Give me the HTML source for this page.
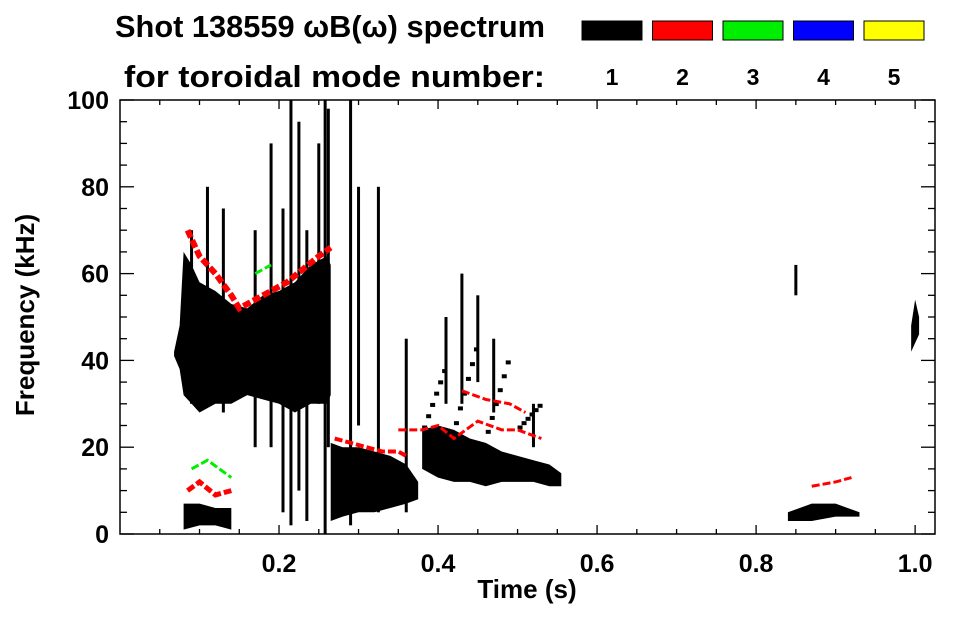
<!DOCTYPE html>
<html><head><meta charset="utf-8"><style>
body{margin:0;background:#fff;width:963px;height:615px;overflow:hidden}
svg text{font-family:"Liberation Sans",sans-serif;font-weight:bold;fill:#000}
</style></head><body>
<svg id="chart" width="963" height="615" viewBox="0 0 963 615" xmlns="http://www.w3.org/2000/svg">
<text x="115" y="37" font-size="30.5" textLength="430" lengthAdjust="spacingAndGlyphs">Shot 138559 ωB(ω) spectrum</text>
<text x="124" y="87" font-size="31" textLength="421" lengthAdjust="spacingAndGlyphs">for toroidal mode number:</text>
<g id="legend"></g>
<g id="plot"></g>
<g id="axes"></g>
<text x="527" y="598" font-size="26" text-anchor="middle">Time (s)</text>
<text transform="translate(34,315) rotate(-90)" font-size="26" text-anchor="middle">Frequency (kHz)</text>
</svg>
<script>
const modeNumbers=[1,2,3,4,5];
const modeColors=["#000000","#ff0000","#00ee00","#0000ff","#ffff00"];
const xTicks=[0.2,0.4,0.6,0.8,1.0];
const xTickLabels=["0.2","0.4","0.6","0.8","1.0"];
const yTicks=[0,20,40,60,80,100];
const yTickLabels=["0","20","40","60","80","100"];
const band1T=[0.068,0.075,0.08,0.09,0.10,0.12,0.14,0.16,0.18,0.20,0.22,0.24,0.26,0.265];
const band1Lo=[41,38,32,30,28,30,30,32,31,30,28,30,30,32];
const band1Hi=[42,48,65,62,58,56,53,52,55,56,58,62,64,62];
const band2T=[0.265,0.28,0.30,0.32,0.34,0.36,0.375];
const band2Lo=[3,4,5,5,6,7,8];
const band2Hi=[21,20,20,19,18,16,12];
const band3T=[0.38,0.40,0.42,0.44,0.46,0.48,0.50,0.52,0.54,0.555];
const band3Lo=[15,13,12,12,11,12,12,12,11,11];
const band3Hi=[24,25,24,22,21,19,18,17,16,14];
const band4T=[0.08,0.10,0.12,0.14];
const band4Lo=[1,2,2,1];
const band4Hi=[7,7,6,6];
const band5T=[0.84,0.87,0.90,0.93];
const band5Lo=[3,3,4,4];
const band5Hi=[5,7,7,5];
const band6T=[0.995,1.0,1.005];
const band6Lo=[42,44,46];
const band6Hi=[48,54,50];
const band7T=[0.38,0.42,0.46,0.50];
const band7Lo=[25,26,24,25];
const band7Hi=[38,43,40,30];
const spikeT=[0.09,0.11,0.13,0.17,0.19,0.205,0.215,0.225,0.235,0.25,0.258,0.262,0.29,0.30,0.325,0.36,0.41,0.43,0.45,0.47,0.52,0.85];
const spikeLo=[30,40,28,20,20,5,2,10,3,30,0,20,2,25,5,5,30,30,35,28,20,55];
const spikeHi=[70,80,75,70,90,75,100,95,70,90,100,98,100,80,80,45,50,60,55,45,30,62];
const red1T=[0.085,0.10,0.12,0.14,0.15,0.17,0.19,0.21,0.23,0.25,0.265];
const red1F=[70,64,60,55,52,54,56,58,61,64,66];
const red2T=[0.27,0.29,0.31,0.33,0.35,0.36];
const red2F=[22,21,20,19,19,18];
const red3T=[0.35,0.38,0.40,0.42,0.45,0.48,0.50,0.53];
const red3F=[24,24,25,22,26,24,24,22];
const red4T=[0.43,0.46,0.49,0.51];
const red4F=[33,31,30,28];
const red5T=[0.085,0.10,0.12,0.14];
const red5F=[10,12,9,10];
const red6T=[0.87,0.90,0.92];
const red6F=[11,12,13];
const green1T=[0.09,0.11,0.14];
const green1F=[15,17,13];
const green2T=[0.17,0.19];
const green2F=[60,62];

const X0=120,X1=935,Y0=534,Y1=100,XMAX=1.025,YMAX=100;
const sx=t=>X0+t/XMAX*(X1-X0);
const sy=f=>Y0-f/YMAX*(Y0-Y1);
const NS="http://www.w3.org/2000/svg";
function mk(tag,parent){const e=document.createElementNS(NS,tag);parent.appendChild(e);return e;}
const plot=document.getElementById('plot'),axes=document.getElementById('axes'),legend=document.getElementById('legend');

function band(T,Lo,Hi,color,name){
  let pts=T.map((t,i)=>sx(t)+','+sy(Hi[i]));
  for(let i=T.length-1;i>=0;i--)pts.push(sx(T[i])+','+sy(Lo[i]));
  const p=mk('polygon',plot);
  p.setAttribute('points',pts.join(' '));p.setAttribute('fill',color);
  
  
}
band(band1T,band1Lo,band1Hi,"#000","mode1-band-early");
band(band2T,band2Lo,band2Hi,"#000","mode1-band-mid");
band(band3T,band3Lo,band3Hi,"#000","mode1-band-late");
band(band4T,band4Lo,band4Hi,"#000","mode1-band-low");
band(band5T,band5Lo,band5Hi,"#000","mode1-band-0p9s");
band(band6T,band6Lo,band6Hi,"#000","mode1-band-1s");
spikeT.forEach((t,i)=>{
  const r=mk('rect',plot);
  r.setAttribute('x',sx(t)-1.5);r.setAttribute('width',3);
  r.setAttribute('y',sy(spikeHi[i]));r.setAttribute('height',sy(spikeLo[i])-sy(spikeHi[i]));
  r.setAttribute('fill','#000');
  
  
});
band7T.forEach((t,i)=>{
  for(let k=0;k<6;k++){
    const f=band7Lo[i]+(band7Hi[i]-band7Lo[i])*k/5;
    const r=mk('rect',plot);
    r.setAttribute('x',sx(t)+k*4);r.setAttribute('y',sy(f));r.setAttribute('width',5);r.setAttribute('height',4);
    r.setAttribute('fill','#000');
    
    
  }
});
function ridge(T,F,color,w,name){
  const p=mk('polyline',plot);
  p.setAttribute('points',T.map((t,i)=>sx(t)+','+sy(F[i])).join(' '));
  p.setAttribute('fill','none');p.setAttribute('stroke',color);p.setAttribute('stroke-width',w);
  p.setAttribute('stroke-dasharray','8 3');
  
  
}
ridge(red1T,red1F,"#ff0000",6,"mode2-ridge-early");
ridge(red2T,red2F,"#ff0000",4,"mode2-ridge-mid");
ridge(red3T,red3F,"#ff0000",3,"mode2-ridge-late");
ridge(red4T,red4F,"#ff0000",3,"mode2-ridge-upper");
ridge(red5T,red5F,"#ff0000",5,"mode2-ridge-low");
ridge(red6T,red6F,"#ff0000",3,"mode2-ridge-0p9s");
ridge(green1T,green1F,"#00ee00",3,"mode3-ridge-low");
ridge(green2T,green2F,"#00ee00",3,"mode3-ridge-high");

const fr=mk('rect',axes);
fr.setAttribute('x',X0);fr.setAttribute('y',Y1);fr.setAttribute('width',X1-X0);fr.setAttribute('height',Y0-Y1);
fr.setAttribute('fill','none');fr.setAttribute('stroke','#000');fr.setAttribute('stroke-width',1.5);


function line(x1,y1,x2,y2){const l=mk('line',axes);l.setAttribute('x1',x1);l.setAttribute('y1',y1);l.setAttribute('x2',x2);l.setAttribute('y2',y2);l.setAttribute('stroke','#000');l.setAttribute('stroke-width',1.3);

}
for(let t=0.05;t<XMAX;t+=0.05){const maj=Math.abs(t/0.2-Math.round(t/0.2))<1e-6;const L=maj?9:5;
  line(sx(t),Y0,sx(t),Y0-L);line(sx(t),Y1,sx(t),Y1+L);}
for(let f=0;f<=YMAX;f+=5){const maj=f%20===0;const L=maj?14:7;
  line(X0,sy(f),X0+L,sy(f));line(X1,sy(f),X1-L,sy(f));}
xTicks.forEach((t,i)=>{const tx=mk('text',axes);tx.setAttribute('x',sx(t));tx.setAttribute('y',572);tx.setAttribute('font-size',25);tx.setAttribute('text-anchor','middle');tx.textContent=xTickLabels[i];
  
  });
yTicks.forEach((f,i)=>{const tx=mk('text',axes);tx.setAttribute('x',109);tx.setAttribute('y',sy(f)+9);tx.setAttribute('font-size',25);tx.setAttribute('text-anchor','end');tx.textContent=yTickLabels[i];
  
  });
modeNumbers.forEach((m,i)=>{
  const x=582+i*70.5;
  const r=mk('rect',legend);
  r.setAttribute('x',x);r.setAttribute('y',21);r.setAttribute('width',60);r.setAttribute('height',19);
  r.setAttribute('fill',modeColors[i]);r.setAttribute('stroke','#000');r.setAttribute('stroke-width',1);
  
  
  const tx=mk('text',legend);tx.setAttribute('x',x+30);tx.setAttribute('y',85);tx.setAttribute('font-size',23);tx.setAttribute('text-anchor','middle');tx.textContent=m;
  
  
});
</script>
</body></html>
